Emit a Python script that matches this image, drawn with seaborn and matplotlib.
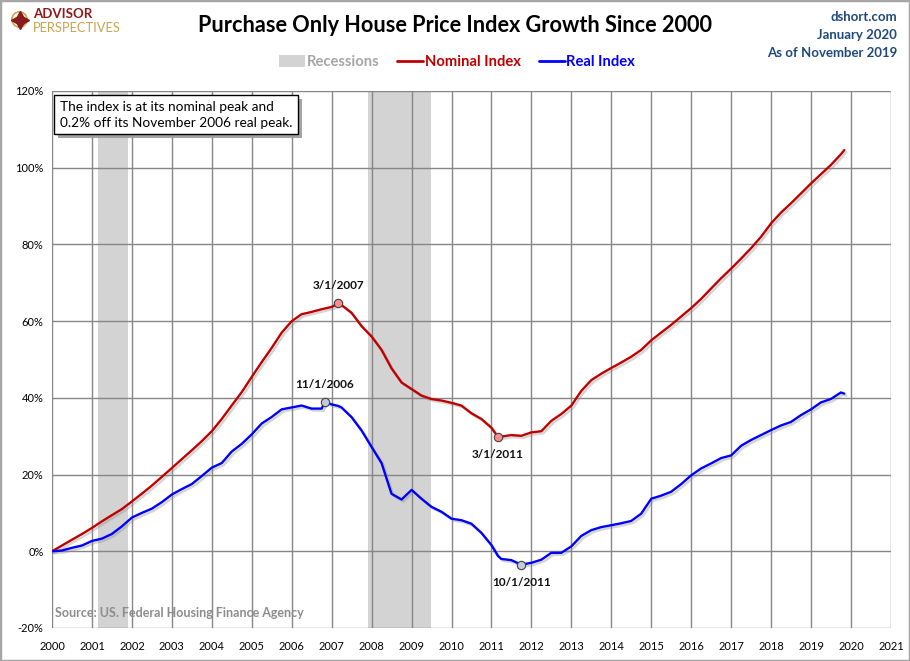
import matplotlib
matplotlib.use("Agg")
import matplotlib.pyplot as plt
import matplotlib.dates as mdates
import matplotlib.patheffects as pe
from matplotlib.patches import Patch, Circle, Rectangle
from matplotlib.lines import Line2D
import seaborn as sns
import pandas as pd

# quarterly readings plus the months that carry a peak / trough label
dates = [
    "2000-01", "2000-04", "2000-07", "2000-10",
    "2001-01", "2001-04", "2001-07", "2001-10",
    "2002-01", "2002-04", "2002-07", "2002-10",
    "2003-01", "2003-04", "2003-07", "2003-10",
    "2004-01", "2004-04", "2004-07", "2004-10",
    "2005-01", "2005-04", "2005-07", "2005-10",
    "2006-01", "2006-04", "2006-07", "2006-10", "2006-11",
    "2007-01", "2007-03", "2007-04", "2007-07", "2007-10",
    "2008-01", "2008-04", "2008-07", "2008-10",
    "2009-01", "2009-04", "2009-07", "2009-10",
    "2010-01", "2010-04", "2010-07", "2010-10",
    "2011-01", "2011-03", "2011-04", "2011-07", "2011-10",
    "2012-01", "2012-04", "2012-07", "2012-10",
    "2013-01", "2013-04", "2013-07", "2013-10",
    "2014-01", "2014-04", "2014-07", "2014-10",
    "2015-01", "2015-04", "2015-07", "2015-10",
    "2016-01", "2016-04", "2016-07", "2016-10",
    "2017-01", "2017-04", "2017-07", "2017-10",
    "2018-01", "2018-04", "2018-07", "2018-10",
    "2019-01", "2019-04", "2019-07", "2019-10", "2019-11",
]

nominal = [
    0.0, 1.5, 3.0, 4.5,
    6.1, 7.8, 9.4, 11.0,
    13.0, 15.0, 17.1, 19.4,
    21.7, 24.0, 26.3, 28.7,
    31.3, 34.5, 38.0, 41.5,
    45.5, 49.3, 53.0, 57.0,
    60.0, 61.8, 62.4, 63.1, 63.3,
    63.7, 64.6, 64.2, 62.2, 58.7,
    56.0, 52.5, 47.7, 44.0,
    42.3, 40.6, 39.7, 39.3,
    38.7, 38.0, 36.0, 34.5,
    32.2, 29.8, 29.9, 30.3, 30.1,
    31.0, 31.3, 34.0, 35.8,
    38.0, 41.8, 44.6, 46.3,
    47.8, 49.2, 50.7, 52.5,
    55.0, 57.0, 59.0, 61.2,
    63.4, 65.8, 68.5, 71.2,
    73.7, 76.3, 79.0, 82.0,
    85.5, 88.3, 90.7, 93.3,
    95.9, 98.3, 100.7, 103.5, 104.6,
]

real = [
    0.0, 0.2, 0.9, 1.5,
    2.7, 3.3, 4.5, 6.5,
    8.8, 10.0, 11.1, 12.8,
    14.8, 16.2, 17.5, 19.6,
    21.8, 23.0, 26.0, 28.0,
    30.5, 33.3, 35.0, 37.0,
    37.5, 38.0, 37.2, 37.2, 38.9,
    38.3, 37.9, 37.5, 35.0, 31.5,
    27.2, 23.0, 15.0, 13.5,
    16.0, 13.7, 11.6, 10.3,
    8.5, 8.1, 7.2, 4.8,
    1.6, -1.2, -2.0, -2.3, -3.5,
    -3.0, -2.2, -0.4, -0.4,
    1.3, 4.0, 5.5, 6.3,
    6.8, 7.3, 7.9, 9.8,
    13.7, 14.5, 15.5, 17.5,
    19.8, 21.6, 22.9, 24.3,
    25.0, 27.5, 29.0, 30.3,
    31.6, 32.8, 33.7, 35.5,
    37.0, 38.8, 39.7, 41.4, 41.1,
]

recessions = [("2001-03-01", "2001-11-30"), ("2007-12-01", "2009-06-30")]

nominal_marks = [("2007-03", "3/1/2007", "above"), ("2011-03", "3/1/2011", "below")]
real_marks = [("2006-11", "11/1/2006", "above"), ("2011-10", "10/1/2011", "below")]

RED = "#C00000"
BLUE = "#0000FF"
GRID = "#868686"
NAVY = "#1F497D"

df = pd.DataFrame({"date": pd.to_datetime(dates), "nominal": nominal, "real": real})

sns.set_theme(style="white")
plt.rcParams["font.family"] = ["Lato", "DejaVu Sans"]

fig = plt.figure(figsize=(9.1, 6.61), dpi=100)
ax = fig.add_axes([52 / 910, 1 - 628 / 661, 839 / 910, 537 / 661])

# recession shading
for start, end in recessions:
    ax.axvspan(pd.Timestamp(start), pd.Timestamp(end), color="#D3D3D3", lw=0, zorder=0.1)

shadow = [pe.SimpleLineShadow(offset=(1.5, -1.5), shadow_color="#888888", alpha=0.35), pe.Normal()]
sns.lineplot(data=df, x="date", y="nominal", ax=ax, color=RED, lw=1.7, zorder=3,
             path_effects=shadow)
sns.lineplot(data=df, x="date", y="real", ax=ax, color=BLUE, lw=1.7, zorder=3,
             path_effects=shadow)

# peak / trough markers
for col, marks, face in [("nominal", nominal_marks, "#FF8C8C"), ("real", real_marks, "#C3CCDA")]:
    for month, label, side in marks:
        row = df[df["date"] == pd.Timestamp(month)].iloc[0]
        ax.plot(row["date"], row[col], "o", ms=6, mfc=face, mec="#404040", mew=0.8, zorder=4)
        dy = 9 if side == "above" else -9
        ax.annotate(label, (row["date"], row[col]), xytext=(0, dy), textcoords="offset points",
                    ha="center", va="bottom" if side == "above" else "top",
                    fontsize=8.5, fontweight="bold", color="#111111", zorder=5)

ax.set_xlim(pd.Timestamp("2000-01-01"), pd.Timestamp("2021-01-01"))
ax.set_ylim(-20, 120)
ax.set_yticks(range(-20, 121, 20))
ax.yaxis.set_major_formatter(plt.FuncFormatter(lambda v, p: f"{v:.0f}%"))
ax.xaxis.set_major_locator(mdates.YearLocator(1))
ax.xaxis.set_major_formatter(mdates.DateFormatter("%Y"))
ax.set_xlabel("")
ax.set_ylabel("")
ax.grid(True, color=GRID, lw=1)
ax.set_axisbelow(True)
for s in ax.spines.values():
    s.set_visible(False)
ax.tick_params(axis="both", length=0, labelsize=8, colors="#000000")
ax.tick_params(axis="x", pad=9)
ax.tick_params(axis="y", pad=6)

# note box with a little drop shadow
note = "The index is at its nominal peak and\n0.2% off its November 2006 real peak."
box = ax.text(0.0095, 0.981, note, transform=ax.transAxes, fontsize=9.8, va="top", ha="left",
              color="black", linespacing=1.35, zorder=6,
              bbox=dict(boxstyle="square,pad=0.42", fc="white", ec="black", lw=1))
box.get_bbox_patch().set_path_effects([
    pe.SimplePatchShadow(offset=(2.5, -2.5), shadow_rgbFace="#9A9A9A", alpha=0.9),
    pe.Normal()])

ax.text(0.004, 0.028, "Source: US. Federal Housing Finance Agency", transform=ax.transAxes,
        fontsize=9, fontweight="bold", color="#8C8C8C", ha="left", va="center")

# title and header texts
fig.text(0.5, 1 - 25 / 661, "Purchase Only House Price Index Growth Since 2000",
         ha="center", va="center", fontsize=15.6, fontweight="bold", color="black")
for i, line in enumerate(["dshort.com", "January 2020", "As of November 2019"]):
    fig.text(897 / 910, 1 - (17 + 18 * i) / 661, line, ha="right", va="center",
             fontsize=9.5, fontweight="bold", color=NAVY)

# logo
fig.text(33 / 910, 1 - 13.5 / 661, "ADVISOR", ha="left", va="center", fontsize=9.5,
         fontweight="bold", color="#8B1A1A")
fig.text(33 / 910, 1 - 27.5 / 661, "PERSPECTIVES", ha="left", va="center", fontsize=9.3,
         color="#C9A44C")
lax = fig.add_axes([10 / 910, 1 - 29 / 661, 19 / 910, 19 / 661])
lax.set_xlim(-1, 1)
lax.set_ylim(-1, 1)
lax.set_aspect("equal")
lax.axis("off")
lax.add_patch(Circle((0, 0), 0.8, fill=False, ec="#C9A44C", lw=1.2))
lax.plot([0], [0], marker=(4, 1, 0), ms=13, color="#8B1A1A")
lax.plot([0], [0], marker=(4, 1, 45), ms=7, color="#8B1A1A")

# legend
handles = [
    Patch(fc="#D3D3D3", ec="none", label="Recessions"),
    Line2D([0], [0], color=RED, lw=2, label="Nominal Index"),
    Line2D([0], [0], color=BLUE, lw=2, label="Real Index"),
]
leg = fig.legend(handles=handles, loc="center", bbox_to_anchor=(457 / 910, 1 - 62 / 661),
                 ncol=3, frameon=False, handlelength=1.8, handleheight=0.8,
                 handletextpad=0.1, columnspacing=1.2, prop={"weight": "bold", "size": 10.6})
for txt, c in zip(leg.get_texts(), ["#A6A6A6", RED, BLUE]):
    txt.set_color(c)

fig.patches.append(Rectangle((0, 0), 1, 1, transform=fig.transFigure, fill=False,
                             ec="#A6A6A6", lw=2.5))

plt.savefig("out.png", dpi=100)
